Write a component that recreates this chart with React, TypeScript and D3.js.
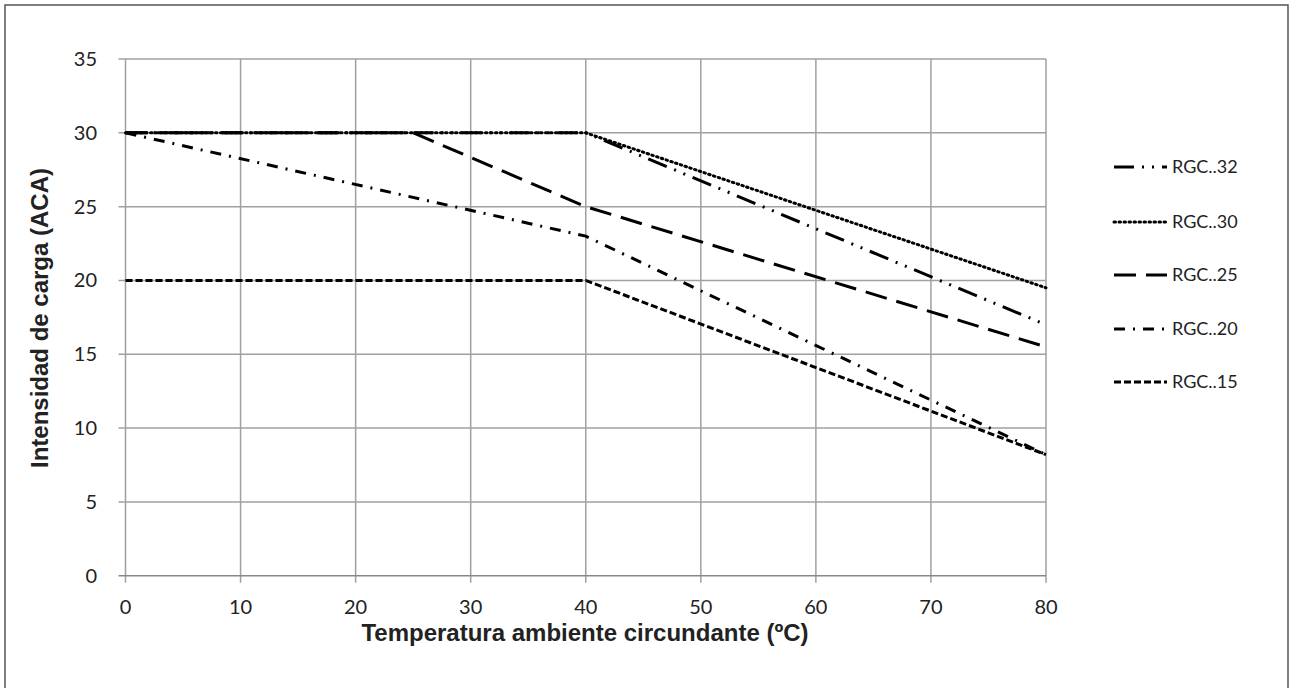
import React from "react";
import * as d3 from "d3";

const seriesNames = ["RGC..32", "RGC..30", "RGC..25", "RGC..20", "RGC..15"];
const rgc32 = [ [0, 30], [40, 30], [80, 17] ];
const rgc30 = [ [0, 30], [40, 30], [80, 19.5] ];
const rgc25 = [ [0, 30], [25, 30], [40, 25], [80, 15.5] ];
const rgc20 = [ [0, 30], [40, 23], [80, 8.2] ];
const rgc15 = [ [0, 20], [40, 20], [80, 8.2] ];
const xTicks = [0, 10, 20, 30, 40, 50, 60, 70, 80];
const yTicks = [0, 5, 10, 15, 20, 25, 30, 35];

const seriesData = [rgc32, rgc30, rgc25, rgc20, rgc15];
const dashes = ["20 8 2 8 2 8", "1.5 3.5", "22 10", "11 8 2 8", "7 3"];
const caps = ["butt", "round", "butt", "butt", "butt"];

export default function App() {
  const W = 1290, H = 688;
  const x = d3.scaleLinear().domain([0, 80]).range([125.5, 1046]);
  const y = d3.scaleLinear().domain([0, 35]).range([575.7, 59]);
  const line = d3.line<number[]>().x(d => x(d[0])).y(d => y(d[1]));
  const legendY = [167, 222, 275, 329, 382];
  const tickFont = "Lato, 'Open Sans', sans-serif";
  return (
    <svg width={W} height={H} style={{ position: "absolute", left: 0, top: 0 }}>
      <rect x={0} y={0} width={W} height={H} fill="#fff" />
      <rect x={5} y={5} width={1283} height={690} fill="none" stroke="#555" strokeWidth={1.5} />
      {xTicks.map(t => (
        <line key={"gx" + t} x1={x(t)} x2={x(t)} y1={y(35)} y2={y(0) + 7} stroke="#a0a0a0" strokeWidth={1.5} />
      ))}
      {yTicks.map(t => (
        <line key={"gy" + t} x1={x(0) - 7} x2={x(80)} y1={y(t)} y2={y(t)} stroke={t === 0 ? "#888" : "#a0a0a0"} strokeWidth={1.5} />
      ))}
      {yTicks.map(t => (
        <text key={"ty" + t} x={97} y={y(t)} dy="0.35em" textAnchor="end" fontFamily={tickFont} fontSize={20} fill="#222">{t}</text>
      ))}
      {xTicks.map(t => (
        <text key={"tx" + t} x={x(t)} y={607} dy="0.35em" textAnchor="middle" fontFamily={tickFont} fontSize={20} fill="#222">{t}</text>
      ))}
      <text x={585} y={633} dy="0.35em" textAnchor="middle" fontFamily="'Liberation Sans', Arial, sans-serif" fontWeight="bold" fontSize={24} fill="#222">Temperatura ambiente circundante (ºC)</text>
      <text transform={`translate(40,318) rotate(-90)`} dy="0.35em" textAnchor="middle" fontFamily="'Liberation Sans', Arial, sans-serif" fontWeight="bold" fontSize={24} fill="#222">Intensidad de carga (ACA)</text>
      {seriesData.map((s, i) => (
        <path key={"s" + i} d={line(s) || ""} fill="none" stroke="#000" strokeWidth={3} strokeDasharray={dashes[i]} strokeLinecap={caps[i] as any} />
      ))}
      {seriesNames.map((n, i) => (
        <g key={"l" + i}>
          <line x1={1114} x2={1167} y1={legendY[i]} y2={legendY[i]} stroke="#000" strokeWidth={3} strokeDasharray={dashes[i]} strokeLinecap={caps[i] as any} />
          <text x={1172} y={legendY[i]} dy="0.35em" fontFamily={tickFont} fontSize={18} fill="#222">{n}</text>
        </g>
      ))}
    </svg>
  );
}
